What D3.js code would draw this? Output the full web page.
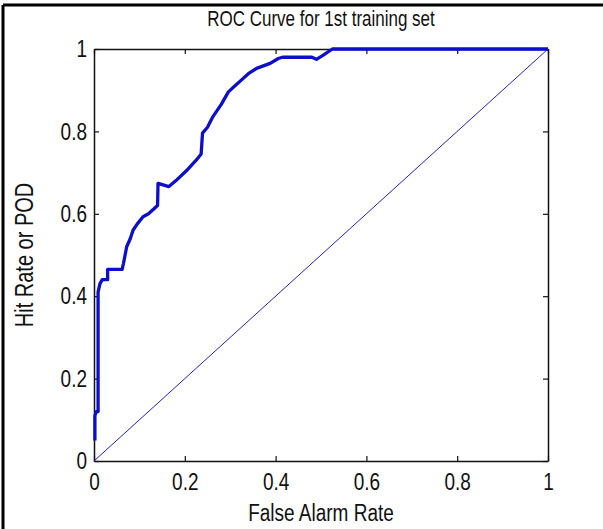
<!DOCTYPE html>
<html>
<head>
<meta charset="utf-8">
<script src="https://cdn.jsdelivr.net/npm/d3@7/dist/d3.min.js"></script>
<style>
  body { margin: 0; background: #fff; }
  text { font-family: "Liberation Sans", Arial, sans-serif; fill: #111; }
</style>
</head>
<body>
<script>
// ROC curve points
var falseAlarm = [0.002, 0.002, 0.005, 0.009, 0.009, 0.013, 0.018, 0.03, 0.03, 0.062, 0.065, 0.072, 0.08, 0.086, 0.095, 0.108, 0.12, 0.134, 0.14, 0.141, 0.165, 0.18, 0.204, 0.225, 0.236, 0.239, 0.25, 0.262, 0.28, 0.296, 0.31, 0.325, 0.34, 0.358, 0.388, 0.406, 0.415, 0.48, 0.49, 0.505, 0.525, 1];
var hitRate    = [0.05, 0.11, 0.12, 0.12, 0.41, 0.43, 0.44, 0.44, 0.465, 0.465, 0.48, 0.52, 0.54, 0.56, 0.575, 0.593, 0.60, 0.614, 0.62, 0.674, 0.666, 0.68, 0.705, 0.73, 0.745, 0.796, 0.81, 0.836, 0.865, 0.896, 0.91, 0.925, 0.94, 0.953, 0.965, 0.977, 0.98, 0.98, 0.975, 0.985, 1.0, 1.0];
var chanceLine = [0, 1];

var xTicks = [0, 0.2, 0.4, 0.6, 0.8, 1];
var xTickLabels = ["0", "0.2", "0.4", "0.6", "0.8", "1"];
var yTicks = [0, 0.2, 0.4, 0.6, 0.8, 1];
var yTickLabels = ["0", "0.2", "0.4", "0.6", "0.8", "1"];

var titleText = "ROC Curve for 1st training set";
var xLabel = "False Alarm Rate";
var yLabel = "Hit Rate or POD";

var W = 603, H = 529;
var margin = {left: 94, top: 49},
    width = 454,
    height = 412;
var stretch = 1.25; // text in the picture is tall and narrow

var svg = d3.select('body').append('svg')
  .attr('width', W)
  .attr('height', H);

// frame of the figure (only top and left edges show)
svg.append('line').attr('x1', 3).attr('y1', 5).attr('x2', W).attr('y2', 5)
  .attr('stroke', '#000').attr('stroke-width', 3);
svg.append('line').attr('x1', 3).attr('y1', 5).attr('x2', 3).attr('y2', H)
  .attr('stroke', '#000').attr('stroke-width', 3);

var g = svg.append('g').attr('transform', 'translate(' + margin.left + ',' + margin.top + ')');

var x = d3.scaleLinear().domain([0, 1]).range([0, width]);
var y = d3.scaleLinear().domain([0, 1]).range([height, 0]);

function fmt(ticks, labels) {
  return function(d) { return labels[ticks.indexOf(d)]; };
}

// tall text: scale vertically around its own position
function tallText(sel) {
  sel.each(function() {
    var t = d3.select(this);
    var ty = +t.attr('y') || 0;
    t.attr('y', 0).attr('transform', 'translate(0,' + ty + ') scale(1,' + stretch + ')');
  });
}

var xAxis = g.append('g').attr('transform', 'translate(0,' + height + ')')
  .call(d3.axisBottom(x).tickValues(xTicks).tickFormat(fmt(xTicks, xTickLabels))
    .tickSizeInner(-5).tickSizeOuter(0).tickPadding(12));
var yAxis = g.append('g')
  .call(d3.axisLeft(y).tickValues(yTicks).tickFormat(fmt(yTicks, yTickLabels))
    .tickSizeInner(-5).tickSizeOuter(0).tickPadding(7));
g.append('g')
  .call(d3.axisTop(x).tickValues(xTicks).tickFormat('').tickSizeInner(-5).tickSizeOuter(0));
g.append('g').attr('transform', 'translate(' + width + ',0)')
  .call(d3.axisRight(y).tickValues(yTicks).tickFormat('').tickSizeInner(-5).tickSizeOuter(0));

g.selectAll('.domain').attr('stroke', '#111').attr('stroke-width', 1.5);
g.selectAll('.tick line').attr('stroke', '#111').attr('stroke-width', 1.2);
g.selectAll('.tick text').attr('font-size', 19).attr('fill', '#1a1a1a')
  .attr('font-family', '"Liberation Sans", Arial, sans-serif');
xAxis.selectAll('.tick text').call(tallText);
yAxis.selectAll('.tick text').call(tallText);

// chance diagonal
g.append('path')
  .datum(chanceLine)
  .attr('fill', 'none')
  .attr('stroke', '#2222cc')
  .attr('stroke-width', 1)
  .attr('d', d3.line().x(function(d) { return x(d); }).y(function(d) { return y(d); }));

// ROC curve
var pts = falseAlarm.map(function(d, i) { return [d, hitRate[i]]; });
g.append('path')
  .datum(pts)
  .attr('fill', 'none')
  .attr('stroke', '#0d0dcc')
  .attr('stroke-width', 3.3)
  .attr('stroke-linejoin', 'round')
  .attr('d', d3.line().x(function(d) { return x(d[0]); }).y(function(d) { return y(d[1]); }));

// title and labels
svg.append('text')
  .attr('text-anchor', 'middle')
  .attr('font-size', 17)
  .attr('fill', '#1a1a1a')
  .attr('transform', 'translate(' + (margin.left + width / 2) + ',26) scale(1,' + stretch + ')')
  .text(titleText);

svg.append('text')
  .attr('text-anchor', 'middle')
  .attr('font-size', 19)
  .attr('fill', '#1a1a1a')
  .attr('transform', 'translate(' + (margin.left + width / 2) + ',521) scale(1,' + stretch + ')')
  .text(xLabel);

svg.append('text')
  .attr('text-anchor', 'middle')
  .attr('font-size', 20)
  .attr('fill', '#1a1a1a')
  .attr('transform', 'translate(33,' + (margin.top + height / 2) + ') rotate(-90) scale(1,' + stretch + ')')
  .text(yLabel);
</script>
</body>
</html>
